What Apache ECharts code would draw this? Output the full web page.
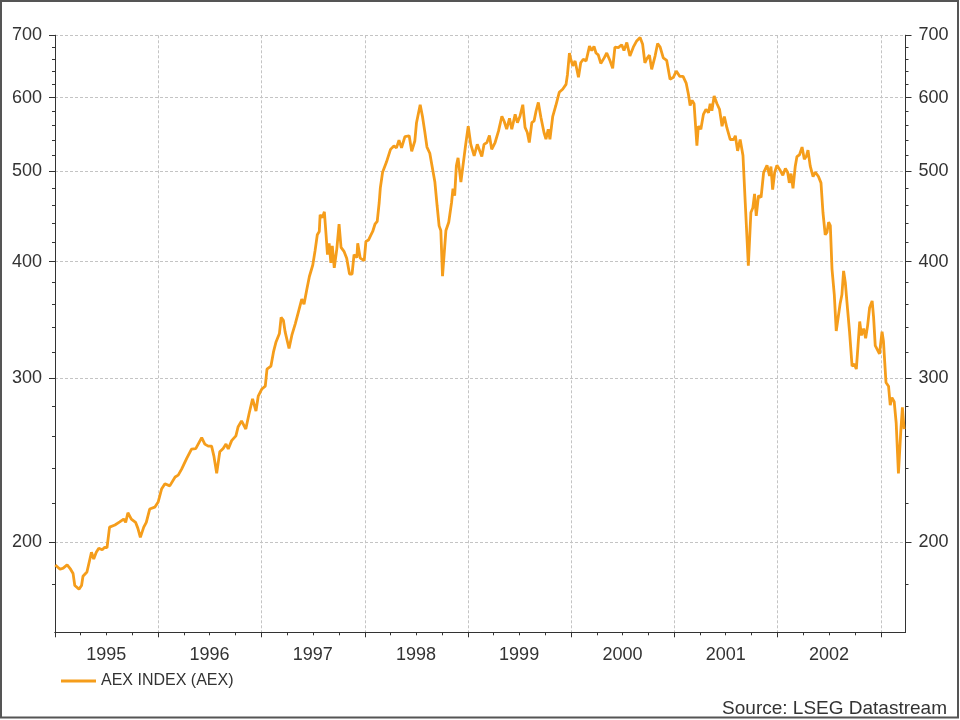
<!DOCTYPE html>
<html><head><meta charset="utf-8">
<script src="https://cdn.jsdelivr.net/npm/echarts@6/dist/echarts.min.js"></script>
<style>html,body{margin:0;padding:0;background:#fff}#c{width:960px;height:720px}</style>
</head><body><div id="c"></div>
<script>
const seriesName = 'AEX INDEX (AEX)';
const sourceText = 'Source: LSEG Datastream';
const dates = [
'1995-01-02','1995-01-19','1995-01-30','1995-02-13','1995-02-25','1995-03-06','1995-03-12','1995-03-27','1995-04-05','1995-04-10','1995-04-24','1995-05-10','1995-05-18','1995-05-27','1995-06-05','1995-06-17','1995-06-26','1995-07-04','1995-07-13','1995-08-01','1995-08-18','1995-09-01','1995-09-08','1995-09-16','1995-09-28','1995-10-13','1995-10-21','1995-10-30','1995-11-11','1995-11-20','1995-12-02','1995-12-20',
'1996-01-01','1996-01-13','1996-01-25','1996-02-11','1996-03-01','1996-03-12','1996-03-24','1996-04-11','1996-04-28','1996-05-13','1996-06-03','1996-06-14','1996-06-26','1996-07-08','1996-07-16','1996-07-26','1996-08-06','1996-08-18','1996-08-28','1996-09-05','1996-09-17','1996-10-02','1996-10-10','1996-10-22','1996-11-06','1996-11-18','1996-11-30','1996-12-12','1996-12-20',
'1997-01-02','1997-01-14','1997-01-20','1997-02-03','1997-02-12','1997-02-21','1997-03-05','1997-03-11','1997-03-19','1997-03-25','1997-03-31','1997-04-08','1997-04-18','1997-04-30','1997-05-11','1997-05-23','1997-05-31','1997-06-10','1997-06-19','1997-07-01','1997-07-09','1997-07-17','1997-07-24','1997-07-27','1997-08-04','1997-08-11','1997-08-17','1997-08-22','1997-08-28','1997-09-03','1997-09-08','1997-09-15','1997-09-24','1997-10-02','1997-10-09','1997-10-20','1997-10-29','1997-11-08','1997-11-17','1997-11-24','1997-12-04','1997-12-07','1997-12-16','1997-12-30',
'1998-01-05','1998-01-14','1998-01-22','1998-01-29','1998-02-06','1998-02-14','1998-02-21','1998-02-25','1998-03-05','1998-03-19','1998-04-02','1998-04-14','1998-04-23','1998-05-02','1998-05-11','1998-05-23','1998-06-07','1998-06-16','1998-06-27','1998-07-03','1998-07-09','1998-07-16','1998-07-24','1998-08-01','1998-08-09','1998-08-19','1998-08-29','1998-09-06','1998-09-14','1998-09-21','1998-09-27','1998-10-03','1998-10-09','1998-10-15','1998-10-25','1998-11-04','1998-11-09','1998-11-15','1998-11-21','1998-11-27','1998-12-07','1998-12-13','1998-12-24',
'1999-01-02','1999-01-11','1999-01-23','1999-02-03','1999-02-10','1999-02-19','1999-02-27','1999-03-09','1999-03-18','1999-03-26','1999-04-07','1999-04-19','1999-05-01','1999-05-09','1999-05-18','1999-05-28','1999-06-05','1999-06-17','1999-06-25','1999-07-04','1999-07-14','1999-07-22','1999-07-30','1999-08-06','1999-08-15','1999-08-23','1999-08-30','1999-09-07','1999-09-16','1999-09-27','1999-10-04','1999-10-12','1999-10-18','1999-10-28','1999-11-08','1999-11-20','1999-12-02','1999-12-14','1999-12-19','1999-12-26','1999-12-30',
'2000-01-07','2000-01-15','2000-01-27','2000-02-04','2000-02-13','2000-02-23','2000-03-06','2000-03-14','2000-03-22','2000-03-29','2000-04-06','2000-04-15','2000-04-27','2000-05-06','2000-05-18','2000-05-27','2000-06-04','2000-06-16','2000-06-28','2000-07-06','2000-07-16','2000-07-27','2000-08-08','2000-08-20','2000-09-01','2000-09-10','2000-09-18','2000-09-24','2000-10-04','2000-10-12','2000-10-24','2000-11-02','2000-11-11','2000-11-22','2000-12-04','2000-12-16','2000-12-28',
'2001-01-07','2001-01-19','2001-01-31','2001-02-11','2001-02-19','2001-02-25','2001-03-04','2001-03-11','2001-03-21','2001-03-26','2001-04-04','2001-04-13','2001-04-22','2001-05-01','2001-05-07','2001-05-13','2001-05-21','2001-05-31','2001-06-09','2001-06-18','2001-06-26','2001-07-05','2001-07-17','2001-07-29','2001-08-04','2001-08-12','2001-08-21','2001-08-31','2001-09-08','2001-09-19','2001-09-28','2001-10-05','2001-10-11','2001-10-17','2001-10-25','2001-11-03','2001-11-12','2001-11-24','2001-12-03','2001-12-08','2001-12-14','2001-12-21','2001-12-29',
'2002-01-10','2002-01-19','2002-01-28','2002-02-05','2002-02-11','2002-02-17','2002-02-24','2002-03-04','2002-03-10','2002-03-19','2002-03-28','2002-04-05','2002-04-12','2002-04-18','2002-04-26','2002-05-06','2002-05-14','2002-05-25','2002-06-03','2002-06-10','2002-06-18','2002-06-24','2002-06-30','2002-07-06','2002-07-12','2002-07-20','2002-07-27','2002-08-03','2002-08-10','2002-08-16','2002-08-22','2002-08-28','2002-09-05','2002-09-12','2002-09-21','2002-09-29','2002-10-06','2002-10-12','2002-10-18','2002-10-24','2002-11-01','2002-11-08','2002-11-15','2002-11-22','2002-12-01','2002-12-06','2002-12-12','2002-12-18','2002-12-27',
'2003-01-05','2003-01-10','2003-01-19','2003-01-28','2003-02-03','2003-02-09','2003-02-17','2003-02-24','2003-03-04','2003-03-12','2003-03-18','2003-03-24'
];
const values = [
189,187,187.5,189,187,185,179.6,178,179.6,183.8,185.7,195,191.8,195,197,196.2,197.4,197.2,207.5,208.6,210.2,211.7,210,215,211.7,210,207,202.3,207.5,210,217,218,
220.8,228,231,229.8,234.9,236,239.5,246,251.7,252,258.9,254.8,253.5,253.5,247.5,237,250,252,254.8,251.7,257,260,266,269.8,264.5,275,285,276.5,286.8,
292,294,306.7,309,320,328,335,348.5,346,336.5,337,322.7,333.5,343,353,364.6,360,373.7,385.6,396.7,410.8,427.5,431,449,446,452.5,427.5,407,418.6,398.7,416,394,412.6,438.8,414.3,410,403.5,388,388,407,404,418.6,403.5,401,
420.5,422,426.8,431,438.8,442,463,480,499,512,528,532.5,530,540,530,545,546,525.5,539,564,566.5,589.6,573,552.3,531,523,502.8,487,459,437,432,386,386,432,441,463,479,471,507,517,487,489,534.6,
559,534.6,519.5,534.6,532,518.7,534.6,537,546.5,528,537,552.3,573,566,555,570,555,575.7,564,573,589.6,557.5,550.5,537,564,566.5,580.5,593,571.5,550.5,541.4,555,541.4,573,588.5,608,612.6,620,635,670,661,
649,657,631,654,659.7,657,681.5,674,681,670,667,653,662,670,657,645,679.8,679,683.8,674,687.5,665,679.8,690.3,696,684.5,654,660,666.5,643.6,665,686,680,662,658,628,631,
640.8,632.5,632.5,622,605,588.5,596,591,533,559,555,575.7,583,578,591,581,602.5,591,583,559,572.7,557,541,541,546,526,541,520,463,396,451.7,457,473,448,471,469,498.6,507.5,494.5,506,478,498.6,507.5,
501,495.3,503.6,499,486,497.3,479.6,506.5,518.7,521,531,515.2,518.7,527,506.5,493.7,499,493.7,486,451.7,427.5,430,441,437.3,392.7,369,337,337,361,368.5,391,380,355.7,336.5,309,310.5,306.7,325,345,333.5,339,331,341.5,357,363,349,325,325,318.5,
336.5,328.5,296.7,294,280.6,285.8,283,268.6,237,262,279,264.4
];
const yMin = 160, yMax = 700;
const yMajorTicks = [200, 300, 400, 500, 600, 700];
const yMinorTicks = [180, 220, 240, 260, 280, 320, 340, 360, 380, 420, 440, 460, 480, 520, 540, 560, 580, 620, 640, 660, 680];
const xMin = '1995-01-01', xMax = '2003-03-29';
const yearStarts = ['1995-01-01','1996-01-01','1997-01-01','1998-01-01','1999-01-01','2000-01-01','2001-01-01','2002-01-01','2003-01-01'];
const yearLabelDates = ['1995-07-01','1996-07-01','1997-07-01','1998-07-01','1999-07-01','2000-07-01','2001-07-01','2002-07-01'];
const quarterTicks = [];
['1995','1996','1997','1998','1999','2000','2001','2002','2003'].forEach(y => ['04','07','10'].forEach(m => quarterTicks.push(y + '-' + m + '-01')));

const ts = s => Date.parse(s);  // ISO date -> UTC timestamp
const FONT = "'Liberation Sans', Arial, sans-serif";
const TXT = '#333333';
const AX = '#333333';
const GRIDC = '#c4c4c4';
const LINEC = '#F59D1B';

const chart = echarts.init(document.getElementById('c'), null, {renderer: 'canvas'});

function yAxisDef(pos, major) {
  return {
    type: 'log', logBase: 10, min: yMin, max: yMax, position: pos,
    axisLine: {show: true, lineStyle: {color: AX, width: 1}},
    axisTick: major ? {show: true, customValues: yMajorTicks, length: 6, lineStyle: {color: AX}}
                    : {show: true, customValues: yMinorTicks, length: 3, lineStyle: {color: AX}},
    axisLabel: major ? {show: true, customValues: yMajorTicks, margin: 13, fontSize: 18, color: TXT, fontFamily: FONT,
                        padding: [4, 0, 0, 0],
                        formatter: v => String(Math.round(v))} : {show: false},
    splitLine: (major && pos === 'left') ? {show: true, lineStyle: {color: GRIDC, type: [3, 2], width: 1}} : {show: false},
    minorTick: {show: false}, minorSplitLine: {show: false}
  };
}

function xAxisDef(main) {
  return {
    type: 'value', min: ts(xMin), max: ts(xMax), position: 'bottom', offset: 0, scale: true,
    axisLine: {show: true, onZero: false, lineStyle: {color: AX, width: 1}},
    axisTick: main ? {show: true, customValues: yearStarts.map(ts), length: 5, lineStyle: {color: AX}}
                   : {show: true, customValues: quarterTicks.map(ts), length: 3, lineStyle: {color: AX}},
    axisLabel: main ? {show: true, customValues: yearLabelDates.map(ts), margin: 14, fontSize: 18, color: TXT, fontFamily: FONT,
                       formatter: v => String(new Date(v).getUTCFullYear())} : {show: false},
    splitLine: main ? {show: true, lineStyle: {color: GRIDC, type: [3, 2], width: 1}} : {show: false}
  };
}

chart.setOption({
  animation: false,
  backgroundColor: '#ffffff',
  grid: {left: 55, right: 54.5, top: 35.3, bottom: 87.7, containLabel: false, outerBoundsMode: 'none'},
  xAxis: [xAxisDef(true), xAxisDef(false)],
  yAxis: [yAxisDef('left', true), yAxisDef('left', false), yAxisDef('right', true), yAxisDef('right', false)],
  legend: {
    show: true, left: 61, top: 673, padding: 0, icon: 'rect', itemWidth: 35, itemHeight: 3,
    textStyle: {fontSize: 16, color: TXT, fontFamily: FONT},
    data: [{name: seriesName}]
  },
  graphic: [
    {type: 'rect', silent: true, z: 100, shape: {x: 1, y: 1, width: 957, height: 716.5},
     style: {fill: 'none', stroke: '#555555', lineWidth: 2}},
    {type: 'text', silent: true, right: 13, top: 699,
     style: {text: sourceText, fontSize: 19, fill: TXT, fontFamily: FONT}}
  ],
  series: [{
    name: seriesName, type: 'line', xAxisIndex: 0, yAxisIndex: 0,
    showSymbol: false, symbol: 'none', smooth: false,
    itemStyle: {color: LINEC},
    lineStyle: {color: LINEC, width: 2.8},
    data: dates.map((d, i) => [ts(d), values[i]])
  }]
});
</script>
</body></html>
